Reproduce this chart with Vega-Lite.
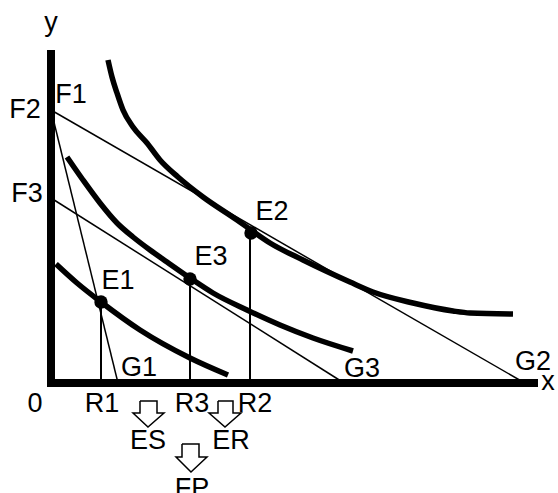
{
  "$schema": "https://vega.github.io/schema/vega-lite/v6.json",
  "width": 558,
  "height": 493,
  "autosize": {"type": "none"},
  "padding": 0,
  "background": "white",
  "config": {"view": {"stroke": null}},
  "datasets": {
    "paths": [
      {"id": "axes", "kind": "axis", "i": 0, "x": 0, "y": 333},
      {"id": "axes", "kind": "axis", "i": 1, "x": 0, "y": 0},
      {"id": "axes", "kind": "axis", "i": 2, "x": 487, "y": 0},

      {"id": "IC2", "kind": "curve", "i": 0, "x": 57, "y": 323},
      {"id": "IC2", "kind": "curve", "i": 1, "x": 61, "y": 306},
      {"id": "IC2", "kind": "curve", "i": 2, "x": 66, "y": 290},
      {"id": "IC2", "kind": "curve", "i": 3, "x": 72, "y": 273},
      {"id": "IC2", "kind": "curve", "i": 4, "x": 82, "y": 256},
      {"id": "IC2", "kind": "curve", "i": 5, "x": 96, "y": 240},
      {"id": "IC2", "kind": "curve", "i": 6, "x": 109, "y": 223},
      {"id": "IC2", "kind": "curve", "i": 7, "x": 127, "y": 206},
      {"id": "IC2", "kind": "curve", "i": 8, "x": 152, "y": 186},
      {"id": "IC2", "kind": "curve", "i": 9, "x": 186, "y": 163},
      {"id": "IC2", "kind": "curve", "i": 10, "x": 200, "y": 153},
      {"id": "IC2", "kind": "curve", "i": 11, "x": 219, "y": 140},
      {"id": "IC2", "kind": "curve", "i": 12, "x": 252, "y": 123},
      {"id": "IC2", "kind": "curve", "i": 13, "x": 299, "y": 101},
      {"id": "IC2", "kind": "curve", "i": 14, "x": 322, "y": 91},
      {"id": "IC2", "kind": "curve", "i": 15, "x": 362, "y": 80},
      {"id": "IC2", "kind": "curve", "i": 16, "x": 402, "y": 72},
      {"id": "IC2", "kind": "curve", "i": 17, "x": 419, "y": 70},
      {"id": "IC2", "kind": "curve", "i": 18, "x": 462, "y": 69},

      {"id": "IC3", "kind": "curve", "i": 0, "x": 16, "y": 226},
      {"id": "IC3", "kind": "curve", "i": 1, "x": 32, "y": 203},
      {"id": "IC3", "kind": "curve", "i": 2, "x": 49, "y": 180},
      {"id": "IC3", "kind": "curve", "i": 3, "x": 66, "y": 160},
      {"id": "IC3", "kind": "curve", "i": 4, "x": 82, "y": 146},
      {"id": "IC3", "kind": "curve", "i": 5, "x": 99, "y": 133},
      {"id": "IC3", "kind": "curve", "i": 6, "x": 116, "y": 121},
      {"id": "IC3", "kind": "curve", "i": 7, "x": 139, "y": 105},
      {"id": "IC3", "kind": "curve", "i": 8, "x": 162, "y": 90},
      {"id": "IC3", "kind": "curve", "i": 9, "x": 196, "y": 73},
      {"id": "IC3", "kind": "curve", "i": 10, "x": 229, "y": 58},
      {"id": "IC3", "kind": "curve", "i": 11, "x": 262, "y": 45},
      {"id": "IC3", "kind": "curve", "i": 12, "x": 302, "y": 32},

      {"id": "IC1", "kind": "curve", "i": 0, "x": 5, "y": 119},
      {"id": "IC1", "kind": "curve", "i": 1, "x": 26, "y": 100},
      {"id": "IC1", "kind": "curve", "i": 2, "x": 50, "y": 81},
      {"id": "IC1", "kind": "curve", "i": 3, "x": 89, "y": 53},
      {"id": "IC1", "kind": "curve", "i": 4, "x": 139, "y": 25},
      {"id": "IC1", "kind": "curve", "i": 5, "x": 177, "y": 8},

      {"id": "F2G2", "kind": "budget", "i": 0, "x": 0, "y": 273},
      {"id": "F2G2", "kind": "budget", "i": 1, "x": 472, "y": 1},
      {"id": "F2G1", "kind": "budget", "i": 0, "x": 0, "y": 273},
      {"id": "F2G1", "kind": "budget", "i": 1, "x": 67, "y": 0},
      {"id": "F3G3", "kind": "budget", "i": 0, "x": 0, "y": 185},
      {"id": "F3G3", "kind": "budget", "i": 1, "x": 293, "y": 0},

      {"id": "V1", "kind": "drop", "i": 0, "x": 50, "y": 81},
      {"id": "V1", "kind": "drop", "i": 1, "x": 50, "y": 0},
      {"id": "V3", "kind": "drop", "i": 0, "x": 139, "y": 105},
      {"id": "V3", "kind": "drop", "i": 1, "x": 139, "y": 0},
      {"id": "V2", "kind": "drop", "i": 0, "x": 199, "y": 150},
      {"id": "V2", "kind": "drop", "i": 1, "x": 199, "y": 0},

      {"id": "A1", "kind": "arrow", "i": 0, "x": 89, "y": -18},
      {"id": "A1", "kind": "arrow", "i": 1, "x": 106, "y": -18},
      {"id": "A1", "kind": "arrow", "i": 2, "x": 106, "y": -30},
      {"id": "A1", "kind": "arrow", "i": 3, "x": 113, "y": -30},
      {"id": "A1", "kind": "arrow", "i": 4, "x": 97, "y": -44},
      {"id": "A1", "kind": "arrow", "i": 5, "x": 82, "y": -30},
      {"id": "A1", "kind": "arrow", "i": 6, "x": 89, "y": -30},
      {"id": "A1", "kind": "arrow", "i": 7, "x": 89, "y": -18},

      {"id": "A2", "kind": "arrow", "i": 0, "x": 167, "y": -18},
      {"id": "A2", "kind": "arrow", "i": 1, "x": 182, "y": -18},
      {"id": "A2", "kind": "arrow", "i": 2, "x": 182, "y": -30},
      {"id": "A2", "kind": "arrow", "i": 3, "x": 190, "y": -30},
      {"id": "A2", "kind": "arrow", "i": 4, "x": 174, "y": -44},
      {"id": "A2", "kind": "arrow", "i": 5, "x": 158, "y": -30},
      {"id": "A2", "kind": "arrow", "i": 6, "x": 167, "y": -30},
      {"id": "A2", "kind": "arrow", "i": 7, "x": 167, "y": -18},

      {"id": "A3", "kind": "arrow", "i": 0, "x": 131, "y": -61},
      {"id": "A3", "kind": "arrow", "i": 1, "x": 148, "y": -61},
      {"id": "A3", "kind": "arrow", "i": 2, "x": 148, "y": -74},
      {"id": "A3", "kind": "arrow", "i": 3, "x": 156, "y": -74},
      {"id": "A3", "kind": "arrow", "i": 4, "x": 140, "y": -89},
      {"id": "A3", "kind": "arrow", "i": 5, "x": 125, "y": -74},
      {"id": "A3", "kind": "arrow", "i": 6, "x": 131, "y": -74},
      {"id": "A3", "kind": "arrow", "i": 7, "x": 131, "y": -61}
    ],
    "points": [
      {"name": "E1", "x": 50, "y": 81},
      {"name": "E3", "x": 139, "y": 104},
      {"name": "E2", "x": 200, "y": 150}
    ],
    "labels": [
      {"text": "y", "x": 0, "y": 352, "align": "center"},
      {"text": "F2", "x": -26, "y": 265, "align": "center"},
      {"text": "F1", "x": 20, "y": 280, "align": "center"},
      {"text": "F3", "x": -24, "y": 181, "align": "center"},
      {"text": "E1", "x": 67, "y": 94, "align": "center"},
      {"text": "E3", "x": 160, "y": 118, "align": "center"},
      {"text": "E2", "x": 221, "y": 163, "align": "center"},
      {"text": "G1", "x": 88, "y": 7, "align": "center"},
      {"text": "G3", "x": 311, "y": 6, "align": "center"},
      {"text": "G2", "x": 482, "y": 13, "align": "center"},
      {"text": "x", "x": 497, "y": -7, "align": "left"},
      {"text": "0", "x": -16, "y": -29, "align": "center"},
      {"text": "R1", "x": 51, "y": -29, "align": "center"},
      {"text": "R3", "x": 141, "y": -29, "align": "center"},
      {"text": "R2", "x": 204, "y": -29, "align": "center"},
      {"text": "ES", "x": 97, "y": -66, "align": "center"},
      {"text": "ER", "x": 180, "y": -66, "align": "center"},
      {"text": "FP", "x": 141, "y": -114, "align": "center"}
    ]
  },
  "encoding": {
    "x": {"field": "x", "type": "quantitative", "scale": {"domain": [-51, 507], "nice": false, "zero": false}, "axis": null},
    "y": {"field": "y", "type": "quantitative", "scale": {"domain": [-110, 383], "nice": false, "zero": false}, "axis": null}
  },
  "layer": [
    {
      "data": {"name": "paths"},
      "transform": [{"filter": "datum.kind == 'budget'"}],
      "mark": {"type": "line", "color": "black", "strokeWidth": 1.5, "clip": false},
      "encoding": {"detail": {"field": "id"}, "order": {"field": "i", "type": "quantitative"}}
    },
    {
      "data": {"name": "paths"},
      "transform": [{"filter": "datum.kind == 'drop'"}],
      "mark": {"type": "line", "color": "black", "strokeWidth": 2, "clip": false},
      "encoding": {"detail": {"field": "id"}, "order": {"field": "i", "type": "quantitative"}}
    },
    {
      "data": {"name": "paths"},
      "transform": [{"filter": "datum.kind == 'arrow'"}],
      "mark": {"type": "line", "color": "black", "strokeWidth": 1.5, "strokeJoin": "miter", "clip": false},
      "encoding": {"detail": {"field": "id"}, "order": {"field": "i", "type": "quantitative"}}
    },
    {
      "data": {"name": "paths"},
      "transform": [{"filter": "datum.kind == 'curve'"}],
      "mark": {"type": "line", "color": "black", "strokeWidth": 5.5, "interpolate": "monotone", "clip": false},
      "encoding": {"detail": {"field": "id"}, "order": {"field": "i", "type": "quantitative"}}
    },
    {
      "data": {"name": "paths"},
      "transform": [{"filter": "datum.kind == 'axis'"}],
      "mark": {"type": "line", "color": "black", "strokeWidth": 8, "strokeJoin": "miter", "clip": false},
      "encoding": {"detail": {"field": "id"}, "order": {"field": "i", "type": "quantitative"}}
    },
    {
      "data": {"name": "points"},
      "mark": {"type": "point", "shape": "circle", "filled": true, "color": "black", "opacity": 1, "size": 180, "clip": false}
    },
    {
      "data": {"name": "labels"},
      "mark": {"type": "text", "font": "Liberation Sans", "fontSize": 27, "color": "black", "baseline": "alphabetic", "clip": false},
      "encoding": {"text": {"field": "text"}, "align": {"field": "align"}}
    }
  ]
}
